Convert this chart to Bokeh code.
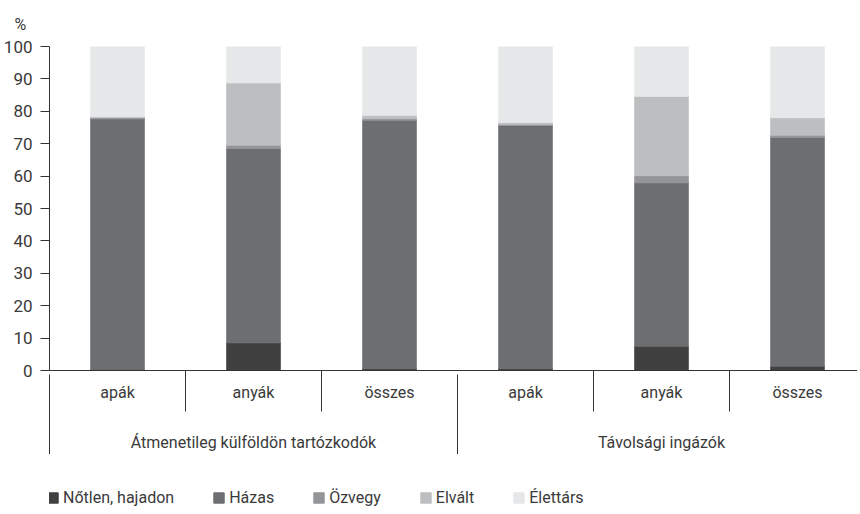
from bokeh.plotting import figure
from bokeh.layouts import column
from bokeh.models import (ColumnDataSource, Range1d, FixedTicker, LinearAxis,
                          Legend, LegendItem, Title)
from bokeh.embed import file_html
from bokeh.resources import INLINE

categories = ["apák", "anyák", "összes", "apák", "anyák", "összes"]
groups = ["Átmenetileg külföldön tartózkodók", "Távolsági ingázók"]
series = ["Nőtlen, hajadon", "Házas", "Özvegy", "Elvált", "Élettárs"]
notlen = [0.3, 8.5, 0.5, 0.5, 7.5, 1.3]
hazas = [77.3, 60.0, 76.7, 75.1, 50.4, 70.6]
ozvegy = [0.4, 1.0, 0.5, 0.3, 2.2, 0.7]
elvalt = [0.3, 19.2, 1.0, 0.6, 24.5, 5.4]
elettars = [21.7, 11.3, 21.3, 23.5, 15.4, 22.0]
y_ticks = list(range(0, 101, 10))

colors = ["#404041", "#6d6e71", "#939598", "#bcbec0", "#e6e7e8"]
FONT = "Roboto"
TXT = "#3a3a3a"

xs = list(range(len(categories)))
keys = ["s0", "s1", "s2", "s3", "s4"]
src = ColumnDataSource(dict(x=xs, s0=notlen, s1=hazas, s2=ozvegy, s3=elvalt, s4=elettars))

p = figure(frame_width=808, frame_height=324, output_backend="svg", toolbar_location=None,
           x_range=Range1d(-0.5, -0.5 + 808 / 136), y_range=Range1d(0, 100),
           min_border_left=44, min_border_right=0, min_border_top=10, min_border_bottom=0)
p.outline_line_color = None
p.grid.visible = False
p.background_fill_color = "white"

rs = p.vbar_stack(keys, x="x", width=54 / 136, source=src, color=colors, line_width=0.6)

p.title = Title(text="%", align="left", offset=-35, standoff=25, text_font=FONT,
                text_font_size="16px", text_font_style="normal", text_color=TXT)

ya = p.yaxis[0]
ya.ticker = FixedTicker(ticks=y_ticks)
ya.major_tick_out = 9
ya.major_tick_in = 0
ya.minor_tick_out = 0
ya.minor_tick_in = 0
ya.major_label_standoff = 8
ya.major_label_text_font = FONT
ya.major_label_text_font_size = "17px"
ya.major_label_text_color = TXT
ya.axis_line_color = "#333333"
ya.major_tick_line_color = "#333333"

xa = p.xaxis[0]
xa.ticker = FixedTicker(ticks=xs, minor_ticks=[0.5, 1.5, 3.5, 4.5])
xa.major_label_overrides = {i: c for i, c in zip(xs, categories)}
xa.major_tick_out = 0
xa.major_tick_in = 0
xa.minor_tick_in = 0
xa.minor_tick_out = 41
xa.minor_tick_line_color = "#333333"
xa.axis_line_color = "#333333"
xa.major_label_standoff = -29
xa.major_label_text_font = FONT
xa.major_label_text_font_size = "16px"
xa.major_label_text_color = TXT

gx = [1, 4]
xb = LinearAxis(ticker=FixedTicker(ticks=gx, minor_ticks=[-0.5, 2.5, 5.5]),
                major_label_overrides={g: t for g, t in zip(gx, groups)})
xb.axis_line_color = None
xb.major_tick_out = 0
xb.major_tick_in = 0
xb.minor_tick_in = 30
xb.minor_tick_out = 54
xb.minor_tick_line_color = "#333333"
xb.major_label_standoff = -26
xb.major_label_text_font = FONT
xb.major_label_text_font_size = "16px"
xb.major_label_text_color = TXT
p.add_layout(xb, "below")

# legend strip below the chart (swatch renderers sit outside the visible range)
lf = figure(width=852, height=62, output_backend="svg", toolbar_location=None,
            x_range=Range1d(0, 1), y_range=Range1d(0, 1),
            x_axis_location=None, y_axis_location=None, min_border=0)
lf.outline_line_color = None
lf.grid.visible = False
swatch_src = ColumnDataSource(dict(x=[10], top=[1]))
dummies = [lf.vbar(x="x", top="top", width=0.1, color=c, source=swatch_src) for c in colors]

legend = Legend(items=[LegendItem(label=s, renderers=[r]) for s, r in zip(series, dummies)],
                orientation="horizontal", location=(-3, 9))
legend.label_text_font = FONT
legend.label_text_font_size = "16px"
legend.label_text_color = TXT
legend.glyph_width = 13
legend.glyph_height = 13
legend.spacing = 38
legend.label_standoff = 4
legend.border_line_color = None
legend.background_fill_alpha = 0
legend.margin = 0
legend.padding = 4
lf.add_layout(legend, "center")

layout = column(p, lf, spacing=0)
open("out.html", "w").write(file_html(layout, INLINE))
